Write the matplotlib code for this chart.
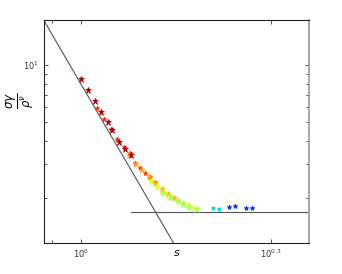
import numpy as np
import matplotlib
matplotlib.use('Agg')
import matplotlib.pyplot as plt
from matplotlib.ticker import FixedLocator, NullFormatter

# Scaled data, one list per colour group (value = position in jet colormap)
x_darkred = [1.000, 1.026, 1.052, 1.075, 1.103, 1.120, 1.148, 1.174, 1.200]
y_darkred = [8.44, 7.39, 6.47, 5.66, 5.01, 4.55, 3.94, 3.61, 3.35]
x_red = [1.060, 1.087, 1.115, 1.140, 1.170, 1.195, 1.217, 1.240, 1.262, 1.285, 1.310]
y_red = [5.94, 5.20, 4.61, 4.10, 3.70, 3.44, 3.05, 2.87, 2.70, 2.58, 2.42]
x_orange = [1.190, 1.220, 1.250, 1.280, 1.310, 1.340, 1.370, 1.400]
y_orange = [3.35, 3.00, 2.80, 2.60, 2.40, 2.22, 2.10, 2.00]
x_yellow = [1.290, 1.320, 1.350, 1.380, 1.420, 1.450, 1.480, 1.510]
y_yellow = [2.45, 2.30, 2.13, 2.05, 1.95, 1.88, 1.83, 1.77]
x_green = [1.340, 1.380, 1.420, 1.450, 1.480, 1.524]
y_green = [2.15, 2.02, 1.92, 1.86, 1.80, 1.75]
x_cyan = [1.617, 1.652]
y_cyan = [1.77, 1.75]
x_blue = [1.713, 1.751, 1.822, 1.863]
y_blue = [1.79, 1.81, 1.77, 1.77]

groups = [
    (x_red, y_red, 0.87, 3.5),
    (x_orange, y_orange, 0.72, 4.5),
    (x_yellow, y_yellow, 0.62, 4.5),
    (x_green, y_green, 0.55, 4.5),
    (x_darkred, y_darkred, 0.97, 5),
    (x_cyan, y_cyan, 0.33, 3.5),
    (x_blue, y_blue, 0.17, 3.5),
]

# reference lines: power law and plateau
slope_exp = -5.73
slope_pref = 7.93
plateau = 1.68
plateau_start = 1.20

xmin, xmax = 0.874, 2.29
ymin, ymax = 1.156, 17.3

fig = plt.figure(figsize=(3.42, 2.74), dpi=100)
ax = fig.add_axes([0.1287, 0.1131, 0.775, 0.814])

xs = np.logspace(np.log10(xmin), np.log10(xmax), 50)
ax.plot(xs, slope_pref * xs ** slope_exp, color='#555555', lw=0.8)
ax.plot([plateau_start, xmax], [plateau, plateau], color='#555555', lw=0.8)

cmap = plt.get_cmap('jet')
for gx, gy, cval, ms in groups:
    ax.plot(gx, gy, '*', color=cmap(cval), ms=ms, mec=cmap(cval), mew=0.5)

ax.set_xscale('log')
ax.set_yscale('log')
ax.set_xlim(xmin, xmax)
ax.set_ylim(ymin, ymax)

ax.xaxis.set_major_locator(FixedLocator([1.0, 10 ** 0.3]))
ax.set_xticklabels(['$10^{0}$', '$10^{0.3}$'])
ax.xaxis.set_minor_locator(FixedLocator([0.9]))
ax.xaxis.set_minor_formatter(NullFormatter())
ax.yaxis.set_major_locator(FixedLocator([10.0]))
ax.set_yticklabels(['$10^{1}$'])
ax.yaxis.set_minor_locator(FixedLocator([2, 3, 4, 5, 6, 7, 8, 9]))
ax.yaxis.set_minor_formatter(NullFormatter())

ax.tick_params(which='both', direction='in', top=True, right=True,
               labelsize=6, colors='#333333', width=0.6)
ax.tick_params(which='major', length=3)
ax.tick_params(which='minor', length=2)
for side in ['left', 'top', 'bottom']:
    ax.spines[side].set_color('#222222')
    ax.spines[side].set_linewidth(0.8)
ax.spines['right'].set_color('#999999')
ax.spines['right'].set_linewidth(1.2)

ax.set_xlabel('$s$', fontsize=8, labelpad=-9)
ax.set_ylabel(r'$\frac{\sigma\gamma}{\rho^{\nu}}$', fontsize=12)
ax.yaxis.label.set_verticalalignment('center')
ax.yaxis.set_label_coords(-0.085, 0.64)

fig.savefig('out.png', dpi=100)
